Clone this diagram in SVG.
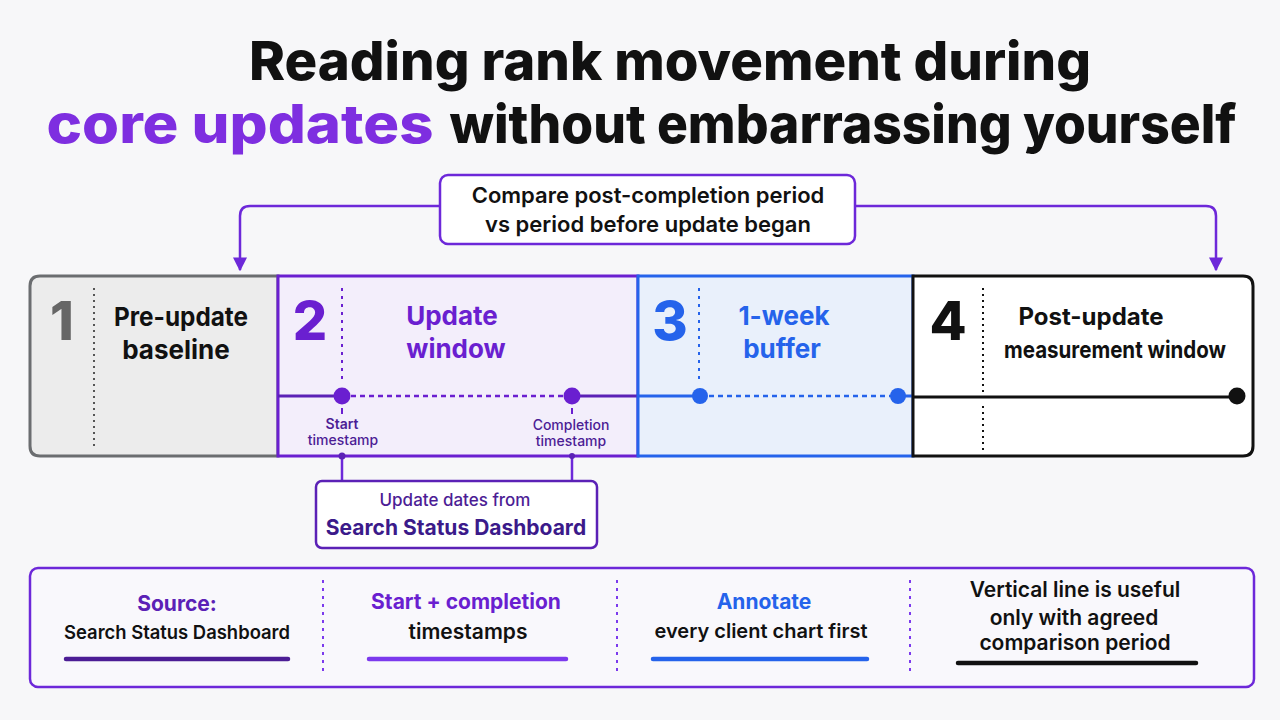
<svg xmlns="http://www.w3.org/2000/svg" width="1280" height="720" viewBox="0 0 1280 720">
<defs>
<style>
text{font-family:Inter,"Liberation Sans",sans-serif;text-anchor:middle}
.title{font-size:54px;font-weight:800;fill:#111}
.num{font-size:54px;font-weight:800}
.lbl{font-size:26px;font-weight:700}
.small{font-size:14px;font-weight:600;fill:#4c1d95}
.co{font-size:22px;font-weight:600;fill:#111}
.h{font-size:21px;font-weight:700}
.b{font-size:19px;font-weight:600;fill:#111}
</style>
<marker id="arr" viewBox="0 0 10 10" refX="9" refY="5" markerWidth="14" markerHeight="14" markerUnits="userSpaceOnUse" orient="auto">
<path d="M0,0 L10,5 L0,10 z" fill="#6d28d9"/>
</marker>
</defs>
<rect width="1280" height="720" fill="#f7f7f9"/>

<g id="title">
<text class="title" x="670" y="80" textLength="842" lengthAdjust="spacingAndGlyphs">Reading rank movement during</text>
<text class="title" x="240" y="143" textLength="387" lengthAdjust="spacingAndGlyphs" style="fill:#7e2ee0">core updates</text>
<text class="title" x="843" y="143" textLength="787" lengthAdjust="spacingAndGlyphs">without embarrassing yourself</text>
</g>

<g id="connectors" fill="none" stroke="#6d28d9" stroke-width="2.5">
<path d="M440,206 H250 Q240,206 240,216 V270" marker-end="url(#arr)"/>
<path d="M855,206 H1206 Q1216,206 1216,216 V270" marker-end="url(#arr)"/>
<path d="M342,456 V481"/>
<path d="M572,456 V481"/>
</g>

<g id="seg1">
<path d="M278,276 H40 Q30,276 30,286 V446 Q30,456 40,456 H278 Z" fill="#ececec" stroke="#6b6d70" stroke-width="3"/>
<line x1="94" y1="288" x2="94" y2="450" stroke="#555" stroke-width="2" stroke-dasharray="2 4"/>
<text class="num" x="62" y="340" fill="#666">1</text>
<text class="lbl" x="181" y="326" fill="#111" textLength="134" lengthAdjust="spacingAndGlyphs">Pre-update</text>
<text class="lbl" x="176" y="359" fill="#111">baseline</text>
</g>

<g id="seg2">
<rect x="278" y="276" width="360" height="180" fill="#f3eefb" stroke="#6a1fd0" stroke-width="3"/>
<line x1="342" y1="288" x2="342" y2="384" stroke="#6a1fd0" stroke-width="2" stroke-dasharray="3 5"/>
<line x1="342" y1="408" x2="342" y2="414" stroke="#6a1fd0" stroke-width="2"/>
<line x1="572" y1="408" x2="572" y2="414" stroke="#6a1fd0" stroke-width="2"/>
<line x1="278" y1="396" x2="342" y2="396" stroke="#5b21b6" stroke-width="3"/>
<line x1="342" y1="396" x2="572" y2="396" stroke="#6a1fd0" stroke-width="2.5" stroke-dasharray="5 4"/>
<line x1="572" y1="396" x2="638" y2="396" stroke="#5b21b6" stroke-width="3"/>
<circle cx="342" cy="396" r="8.5" fill="#6a1fd0"/>
<circle cx="572" cy="396" r="8.5" fill="#6a1fd0"/>
<circle cx="342" cy="456" r="3.5" fill="#5b21b6"/>
<circle cx="572" cy="456" r="3" fill="#5b21b6"/>
<text class="num" x="310" y="340" fill="#6a1fd0">2</text>
<text class="lbl" x="452" y="325" fill="#6a1fd0">Update</text>
<text class="lbl" x="456" y="358" fill="#6a1fd0">window</text>
<text class="small" x="342" y="429">Start</text>
<text class="small" x="343" y="445" style="font-weight:500">timestamp</text>
<text class="small" x="571" y="430" style="font-weight:500">Completion</text>
<text class="small" x="571" y="446" style="font-weight:500">timestamp</text>
</g>

<g id="seg3">
<rect x="638" y="276" width="275" height="180" fill="#e9f0fb" stroke="#2563eb" stroke-width="3"/>
<line x1="699" y1="288" x2="699" y2="384" stroke="#2563eb" stroke-width="2" stroke-dasharray="3 5"/>
<line x1="638" y1="396" x2="700" y2="396" stroke="#2563eb" stroke-width="3"/>
<line x1="700" y1="396" x2="898" y2="396" stroke="#2563eb" stroke-width="2.5" stroke-dasharray="5 4"/>
<line x1="898" y1="396" x2="913" y2="396" stroke="#2563eb" stroke-width="3"/>
<circle cx="700" cy="396" r="8" fill="#2563eb"/>
<circle cx="898" cy="396" r="8" fill="#2563eb"/>
<text class="num" x="670" y="340" fill="#2563eb">3</text>
<text class="lbl" x="784" y="325" fill="#2563eb">1-week</text>
<text class="lbl" x="782" y="358" fill="#2563eb">buffer</text>
</g>

<g id="seg4">
<path d="M913,276 H1243 Q1253,276 1253,286 V446 Q1253,456 1243,456 H913 Z" fill="#ffffff" stroke="#111" stroke-width="3"/>
<line x1="983" y1="288" x2="983" y2="396" stroke="#111" stroke-width="2" stroke-dasharray="2 4"/>
<line x1="983" y1="406" x2="983" y2="450" stroke="#111" stroke-width="2" stroke-dasharray="2 4"/>
<line x1="913" y1="397" x2="1237" y2="397" stroke="#111" stroke-width="3"/>
<circle cx="1237" cy="396" r="8.5" fill="#111"/>
<text class="num" x="948" y="340" fill="#111">4</text>
<text class="lbl" x="1091" y="325" fill="#111" style="font-size:24px">Post-update</text>
<text class="lbl" x="1115" y="358" fill="#111" style="font-size:24px" textLength="222" lengthAdjust="spacingAndGlyphs">measurement window</text>
</g>

<g id="compare-note">
<rect x="440" y="175" width="415" height="69" rx="8" fill="#ffffff" stroke="#6d28d9" stroke-width="2.5"/>
<text class="co" x="648" y="203">Compare post-completion period</text>
<text class="co" x="648" y="232">vs period before update began</text>
</g>

<g id="dates-note">
<rect x="316" y="481" width="281" height="67" rx="6" fill="#ffffff" stroke="#5b21b6" stroke-width="2.5"/>
<text x="455" y="506" style="font-size:17px;font-weight:500;fill:#4c1d95">Update dates from</text>
<text x="456" y="535" style="font-size:21px;font-weight:700;fill:#3b1a8a">Search Status Dashboard</text>
</g>

<g id="summary">
<rect x="30" y="568" width="1224" height="119" rx="8" fill="#f9f8fc" stroke="#6d28d9" stroke-width="2.5"/>
<g stroke="#7c3aed" stroke-width="2" stroke-dasharray="3 5">
<line x1="323" y1="580" x2="323" y2="674"/>
<line x1="617" y1="580" x2="617" y2="674"/>
<line x1="910" y1="580" x2="910" y2="674"/>
</g>
<text class="h" x="177" y="611" fill="#5b21b6">Source:</text>
<text class="b" x="177" y="639" textLength="226" lengthAdjust="spacingAndGlyphs">Search Status Dashboard</text>
<line x1="66" y1="659" x2="288" y2="659" stroke="#4c1d95" stroke-width="4.5" stroke-linecap="round"/>
<text class="h" x="466" y="609" fill="#6a1fd0">Start + completion</text>
<text class="b" x="468" y="639" style="font-size:21px">timestamps</text>
<line x1="369" y1="659" x2="566" y2="659" stroke="#7c3aed" stroke-width="4.5" stroke-linecap="round"/>
<text class="h" x="764" y="609" fill="#2563eb">Annotate</text>
<text class="b" x="761" y="638" style="font-size:20px" textLength="213" lengthAdjust="spacingAndGlyphs">every client chart first</text>
<line x1="653" y1="659" x2="867" y2="659" stroke="#2563eb" stroke-width="4.5" stroke-linecap="round"/>
<g class="b" style="font-size:21px">
<text x="1075" y="597">Vertical line is useful</text>
<text x="1074" y="625">only with agreed</text>
<text x="1075" y="650">comparison period</text>
</g>
<line x1="958" y1="663" x2="1196" y2="663" stroke="#111" stroke-width="4.5" stroke-linecap="round"/>
</g>
</svg>
